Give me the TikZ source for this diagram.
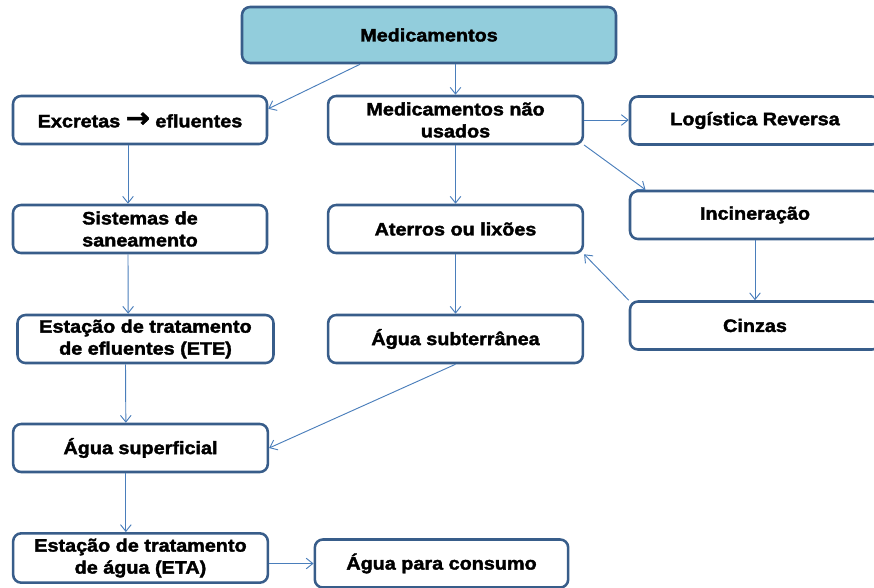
\documentclass[tikz,border=0pt]{standalone}
\usepackage{fontspec}
\setmainfont{Liberation Sans}[FakeStretch=1.1,BoldFont={Liberation Sans Bold},BoldFeatures={FakeStretch=1.1,FakeBold=2}]
\newfontfamily\arrowfont{DejaVu Sans}[FakeBold=2]
\usetikzlibrary{arrows.meta}

\definecolor{boxline}{HTML}{385D8A}
\definecolor{arrline}{HTML}{4A7EBB}
\definecolor{topfill}{HTML}{92CDDC}

\tikzset{
  box/.style={draw=boxline, line width=1.9pt, rounded corners=6pt, fill=white,
    align=center, inner sep=0pt, minimum height=36pt,
    font=\fontsize{13.5}{16.5}\selectfont\bfseries},
  arr/.style={draw=arrline, line width=0.7pt, -{Straight Barb[length=5pt,width=8pt]}}
}
\newcommand{\bigarrow}{\raisebox{0.2pt}{\scalebox{1.6}[1.5]{\arrowfont →}}}

\begin{document}
\begin{tikzpicture}[x=0.75pt, y=-0.75pt]
\useasboundingbox (0,0) rectangle (874,587);
\clip (0,0) rectangle (874,587);

\node[box, fill=topfill, minimum width=280.5pt, minimum height=42pt] (med) at (429,35) {Medicamentos};

\node[box, minimum width=190.5pt] (exc) at (140,120) {Excretas \bigarrow{} efluentes};
\node[box, minimum width=191pt] (nu) at (455.5,120) {Medicamentos não\\usados};
\node[box, minimum width=187.5pt] (log) at (755,120.5) {Logística Reversa};

\node[box, minimum width=190.5pt] (sis) at (140,229) {Sistemas de\\saneamento};
\node[box, minimum width=191pt] (ate) at (455.5,229) {Aterros ou lixões};
\node[box, minimum width=187.5pt] (inc) at (755,215) {Incineração};

\node[box, minimum width=192pt] (ete) at (145.5,339) {Estação de tratamento\\de efluentes (ETE)};
\node[box, minimum width=191pt] (sub) at (455.5,339) {Água subterrânea};
\node[box, minimum width=187.5pt] (cin) at (755,325.5) {Cinzas};

\node[box, minimum width=191pt] (sup) at (140.5,448) {Água superficial};

\node[box, minimum width=191pt, minimum height=37pt] (eta) at (140.5,558) {Estação de tratamento\\de água (ETA)};
\node[box, minimum width=190pt] (con) at (441.5,563.5) {Água para consumo};

% arrows from the top box
\draw[arr] (med.203) -- (exc.5);
\draw[arr] (med.south -| nu.north) -- (nu.north);

% middle column
\draw[arr] (nu.east) -- (log.west |- nu.east);
\draw[arr] (nu.-11.4) -- (inc.167.9);
\draw[arr] (nu.south) -- (ate.north);
\draw[arr] (ate.south) -- (sub.north);
\draw[arr] (cin.north west) -- (ate.south east);
\draw[arr] (inc.south) -- (cin.north);

% left column
\draw[arr] ([xshift=-9pt]exc.south) -- ([xshift=-9pt]sis.north);
\draw[arr] ([xshift=-9pt]sis.south) -- ([xshift=-13pt]ete.north);
\draw[arr] ([xshift=-15pt]ete.south) -- ([xshift=-11pt]sup.north);
\draw[arr] (sub.south) -- (sup.east);
\draw[arr] ([xshift=-11pt]sup.south) -- ([xshift=-11pt]eta.north);
\draw[arr] (eta.east |- con.west) -- (con.west);

\end{tikzpicture}
\end{document}
